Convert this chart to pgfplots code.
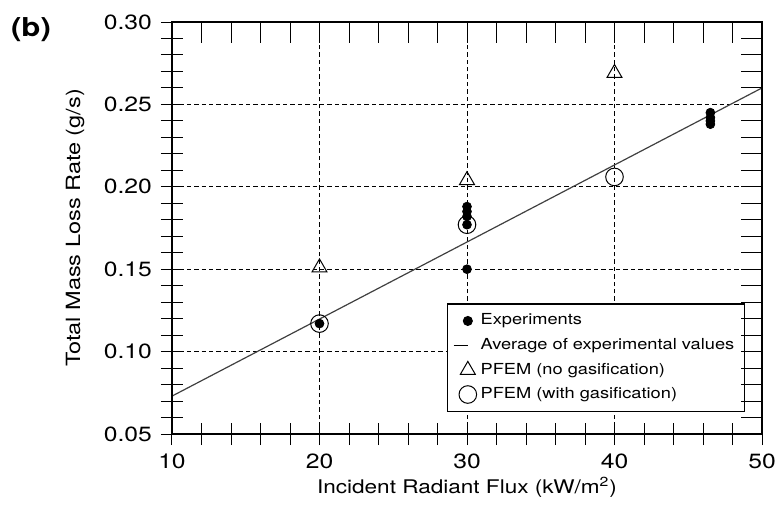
\documentclass[border=0pt]{standalone}
\usepackage{fontspec}
\setmainfont{TeX Gyre Heros}[FakeStretch=1.2]
\usepackage{pgfplots}
\pgfplotsset{compat=1.18}
\begin{document}
\begin{tikzpicture}
\useasboundingbox (-86pt,-41pt) rectangle (304pt,217pt);
\pgfplotsset{
  common/.style={
    scale only axis, width=295pt, height=206pt,
    at={(0,0)}, anchor=south west,
    xmin=10, xmax=50, ymin=0.05, ymax=0.30,
    xtick={10,20,30,40,50}, ytick={0.05,0.10,0.15,0.20,0.25,0.30},
    minor x tick num=4, minor y tick num=4,
    axis line style={black, line width=0.7pt},
    tick style={black, line width=0.5pt},
  }
}
\begin{axis}[common,
  xtick pos=left, ytick pos=left, tick align=center,
  major tick length=11pt, minor tick length=11pt,
  grid=major,
  major grid style={black, line width=0.5pt, dash pattern=on 2.2pt off 1.5pt},
  /pgf/number format/assume math mode=true,
  yticklabel style={/pgf/number format/fixed, /pgf/number format/fixed zerofill, /pgf/number format/precision=2, font=\fontsize{10.3}{12}\selectfont, xshift=-1pt},
  xticklabel style={font=\fontsize{10.3}{12}\selectfont, yshift=-1pt},
  scaled y ticks=false,
  ylabel={Total Mass Loss Rate (g/s)},
  ylabel style={font=\fontsize{9.8}{12}\selectfont, at={(axis description cs:-0.164,0.5)}, anchor=center},
  xlabel={Incident Radiant Flux (kW/m\textsuperscript{2})},
  xlabel style={font=\fontsize{9.4}{12}\selectfont, at={(axis description cs:0.5,-0.129)}, anchor=center},
  legend style={at={(axis description cs:0.971,0.053)}, anchor=south east,
    font=\fontsize{7.6}{9}\selectfont, draw=black, line width=0.6pt, fill=white,
    row sep=1.2pt, inner xsep=3pt, inner ysep=3pt, cells={anchor=west}},
  legend cell align=left,
]
\addplot[only marks, mark=*, mark size=2.2pt, black] coordinates {
  (20,0.117) (30,0.150) (30,0.177) (30,0.182) (30,0.185) (30,0.188)
  (46.5,0.238) (46.5,0.240) (46.5,0.242) (46.5,0.245)
};
\addlegendentry{Experiments}
\addplot[black!75, line width=0.6pt, legend image code/.code={\draw[black, line width=0.5pt] (0.05cm,0cm) -- (0.3cm,0cm);}] coordinates {(10,0.073) (50,0.26)};
\addlegendentry{Average of experimental values}
\addplot[only marks, mark=triangle, mark size=4.3pt, black, mark options={line width=0.5pt}] coordinates {
  (20,0.151) (30,0.204) (40,0.269)
};
\addlegendentry{PFEM (no gasification)}
\addplot[only marks, mark=o, mark size=4.4pt, black, mark options={line width=0.5pt}] coordinates {
  (20,0.117) (30,0.177) (40,0.206)
};
\addlegendentry{PFEM (with gasification)}
\end{axis}
\begin{axis}[common,
  xtick pos=right, ytick pos=right, tick align=inside,
  major tick length=10.5pt, minor tick length=10.5pt,
  xticklabels={}, yticklabels={},
]
\end{axis}
\node[anchor=west, font=\bfseries\fontsize{13}{15}\selectfont] at (-84pt,202pt) {(b)};
\end{tikzpicture}
\end{document}
